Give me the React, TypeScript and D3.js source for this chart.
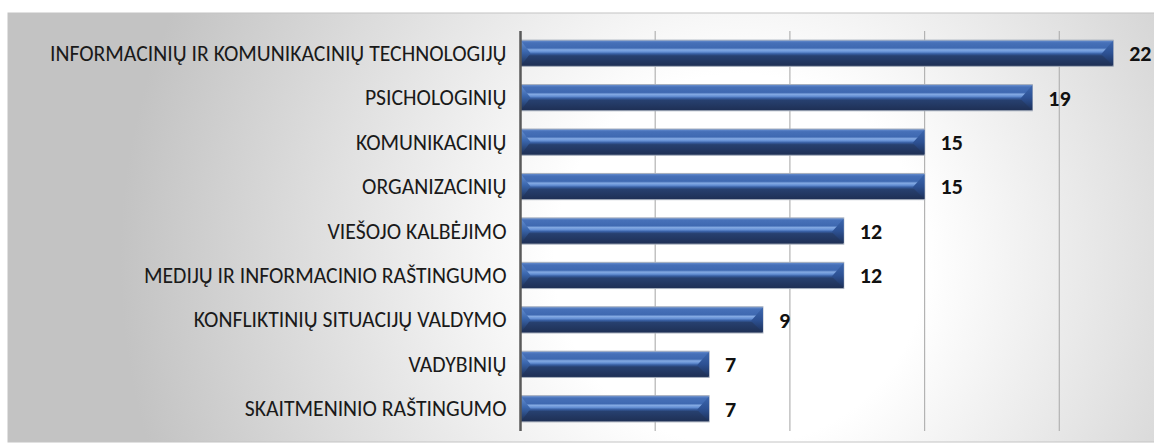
import React from "react";
import * as d3 from "d3";

// skill categories (top to bottom) and their counts
const categories = [
  "INFORMACINIŲ IR KOMUNIKACINIŲ TECHNOLOGIJŲ",
  "PSICHOLOGINIŲ",
  "KOMUNIKACINIŲ",
  "ORGANIZACINIŲ",
  "VIEŠOJO KALBĖJIMO",
  "MEDIJŲ IR INFORMACINIO RAŠTINGUMO",
  "KONFLIKTINIŲ SITUACIJŲ VALDYMO",
  "VADYBINIŲ",
  "SKAITMENINIO RAŠTINGUMO",
];
const counts = [22, 19, 15, 15, 12, 12, 9, 7, 7];
const gridTicks = [5, 10, 15, 20];

const W = 1154;
const H = 443;

export default function App() {
  const x = d3.scaleLinear().domain([0, 25]).range([520.5, 1194]);
  const y = d3
    .scaleBand<string>()
    .domain(categories)
    .range([31, 431])
    .paddingInner(0.41)
    .paddingOuter(0.205);
  const bw = y.bandwidth();
  const [top, bottom] = y.range();

  return (
    <svg
      width={W}
      height={H}
      style={{ position: "absolute", left: 0, top: 0 }}
      fontFamily="Carlito, Calibri, 'Open Sans', sans-serif"
    >
      <defs>
        <radialGradient id="bg" gradientUnits="userSpaceOnUse" cx={740} cy={260} r={620}>
          <stop offset="0" stopColor="#ffffff" />
          <stop offset="0.3" stopColor="#ffffff" />
          <stop offset="1" stopColor="#c3c3c3" />
        </radialGradient>
        <linearGradient id="barGrad" x1="0" y1="0" x2="0" y2="1">
          <stop offset="0" stopColor="#6a91d2" />
          <stop offset="0.1" stopColor="#4670b8" />
          <stop offset="0.3" stopColor="#3f69b1" />
          <stop offset="0.37" stopColor="#84aae3" />
          <stop offset="0.45" stopColor="#6590d4" />
          <stop offset="0.52" stopColor="#385fa3" />
          <stop offset="0.6" stopColor="#27406f" />
          <stop offset="1" stopColor="#1e2f54" />
        </linearGradient>
        <linearGradient id="capL" x1="0" y1="0" x2="0" y2="1">
          <stop offset="0" stopColor="#6a94d6" />
          <stop offset="0.45" stopColor="#3a66ad" />
          <stop offset="1" stopColor="#1b2c4f" />
        </linearGradient>
        <linearGradient id="capR" x1="0" y1="0" x2="0" y2="1">
          <stop offset="0" stopColor="#3d68b0" />
          <stop offset="0.5" stopColor="#2d5193" />
          <stop offset="1" stopColor="#1d3058" />
        </linearGradient>
      </defs>

      <rect x={8} y={13} width={W} height={429} fill="url(#bg)" stroke="#c4c4c4" strokeWidth={1} />

      {gridTicks.map((t) => (
        <line
          key={t}
          x1={x(t)}
          x2={x(t)}
          y1={top}
          y2={bottom}
          stroke="#b3b3b3"
          strokeWidth={1.2}
        />
      ))}

      {categories.map((c, i) => {
        const y0 = y(c)!;
        const x0 = x(0);
        const x1 = x(counts[i]);
        const cy = y0 + bw / 2;
        return (
          <g key={c}>
            <rect x={x0} y={y0} width={x1 - x0} height={bw} fill="url(#barGrad)" stroke="#a7afbd" strokeWidth={1} />
            <polygon
              points={`${x0},${y0} ${x0 + 10},${cy} ${x0},${y0 + bw}`}
              fill="url(#capL)"
            />
            <polygon
              points={`${x1},${y0 + 0.5} ${x1 - 12},${cy + 1} ${x1},${y0 + bw - 0.5}`}
              fill="url(#capR)"
            />
            <text
              x={x0 - 14}
              y={cy}
              dy="0.35em"
              textAnchor="end"
              fontSize={21.7}
              fill="#1a1a1a"
            >
              {c}
            </text>
            <text
              x={x1 + 16}
              y={cy}
              dy="0.36em"
              fontSize={22}
              fontWeight="bold"
              fill="#111111"
            >
              {counts[i]}
            </text>
          </g>
        );
      })}

      <line x1={x(0)} x2={x(0)} y1={top} y2={bottom} stroke="#595959" strokeWidth={2.5} />
    </svg>
  );
}
